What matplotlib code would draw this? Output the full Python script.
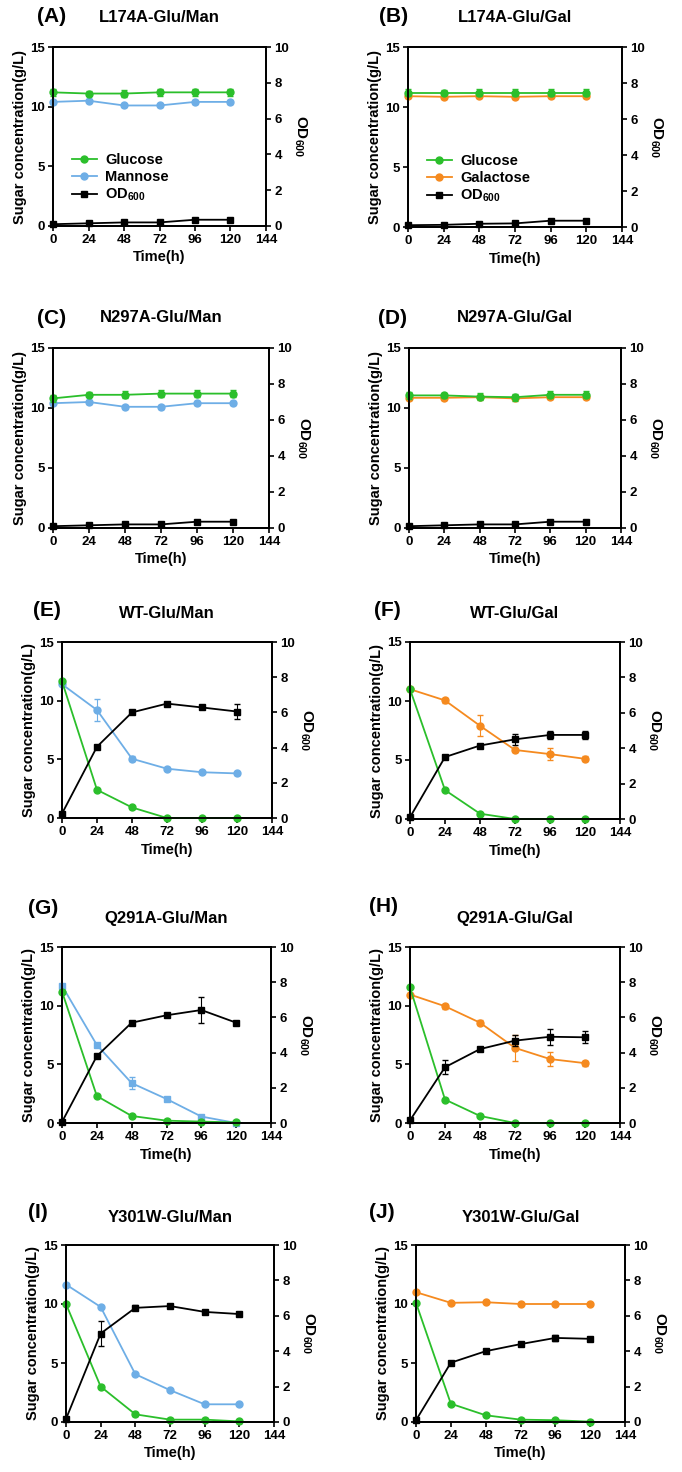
import matplotlib
matplotlib.use("Agg")
import matplotlib.pyplot as plt
import numpy as np

plt.rcParams['font.family'] = ['Liberation Sans', 'DejaVu Sans']
plt.rcParams['font.weight'] = 'bold'
plt.rcParams['mathtext.default'] = 'regular'

time = [0, 24, 48, 72, 96, 120]

# sugar (g/L) and OD600 per panel
glu_A = [11.2, 11.1, 11.1, 11.2, 11.2, 11.2]
man_A = [10.4, 10.5, 10.1, 10.1, 10.4, 10.4]
od_A = [0.1, 0.15, 0.2, 0.2, 0.35, 0.35]

glu_B = [11.2, 11.2, 11.2, 11.2, 11.2, 11.2]
gal_B = [10.9, 10.85, 10.9, 10.85, 10.9, 10.9]
od_B = [0.1, 0.12, 0.18, 0.2, 0.35, 0.35]

glu_C = [10.8, 11.1, 11.1, 11.2, 11.2, 11.2]
man_C = [10.4, 10.5, 10.1, 10.1, 10.4, 10.4]
od_C = [0.1, 0.15, 0.2, 0.2, 0.35, 0.35]

glu_D = [11.05, 11.05, 10.95, 10.9, 11.1, 11.1]
gal_D = [10.85, 10.85, 10.9, 10.8, 10.9, 10.9]
od_D = [0.1, 0.15, 0.2, 0.2, 0.35, 0.35]

glu_E = [11.65, 2.4, 0.9, 0.0, 0.0, 0.0]
man_E = [11.4, 9.2, 5.05, 4.2, 3.9, 3.8]
od_E = [0.25, 4.05, 6.0, 6.5, 6.28, 6.05]

glu_F = [11.0, 2.45, 0.45, 0.0, 0.0, 0.0]
gal_F = [11.0, 10.05, 7.9, 5.85, 5.5, 5.1]
od_F = [0.1, 3.5, 4.15, 4.5, 4.75, 4.75]

glu_G = [11.2, 2.3, 0.6, 0.2, 0.12, 0.05]
man_G = [11.7, 6.65, 3.4, 2.05, 0.55, 0.0]
od_G = [0.06, 3.8, 5.7, 6.12, 6.42, 5.7]

glu_H = [11.55, 2.0, 0.6, 0.0, 0.0, 0.0]
gal_H = [10.95, 9.95, 8.55, 6.4, 5.45, 5.1]
od_H = [0.15, 3.17, 4.2, 4.68, 4.9, 4.87]

glu_I = [10.0, 3.0, 0.65, 0.2, 0.2, 0.05]
man_I = [11.65, 9.75, 4.05, 2.7, 1.5, 1.5]
od_I = [0.17, 5.0, 6.45, 6.55, 6.22, 6.1]

glu_J = [10.1, 1.55, 0.57, 0.2, 0.15, 0.03]
gal_J = [11.0, 10.1, 10.15, 10.0, 10.0, 10.0]
od_J = [0.1, 3.35, 4.0, 4.4, 4.75, 4.7]

# error bars
err_flat_g = [0.3, 0.2, 0.3, 0.3, 0.3, 0.3]
err_flat_s = [0.15, 0.15, 0.15, 0.15, 0.15, 0.15]
err_flat_od = [0.05, 0.05, 0.05, 0.05, 0.05, 0.05]
err_E_s2 = [0.1, 0.9, 0.2, 0.15, 0.1, 0.1]
err_E_od = [0.05, 0.1, 0.1, 0.1, 0.1, 0.4]
err_F_s2 = [0.1, 0.2, 0.9, 0.2, 0.5, 0.2]
err_F_od = [0.05, 0.1, 0.1, 0.3, 0.25, 0.25]
err_G_s2 = [0.1, 0.2, 0.5, 0.2, 0.1, 0.05]
err_G_od = [0.05, 0.1, 0.1, 0.1, 0.75, 0.1]
err_H_s2 = [0.1, 0.2, 0.2, 1.1, 0.6, 0.2]
err_H_od = [0.05, 0.4, 0.1, 0.3, 0.45, 0.35]
err_I_od = [0.05, 0.7, 0.15, 0.1, 0.1, 0.1]
err_J_od = [0.05, 0.1, 0.1, 0.1, 0.15, 0.1]
err_small = [0.1, 0.1, 0.1, 0.1, 0.1, 0.1]

green = '#2bbf2b'
blue = '#6eaee6'
orange = '#f58a1f'

panels = [
    ('(A)', 'L174A-Glu/Man', glu_A, man_A, od_A, 'Mannose', blue, 'o', err_flat_g, err_flat_s, err_flat_od, True),
    ('(B)', 'L174A-Glu/Gal', glu_B, gal_B, od_B, 'Galactose', orange, 'o', err_flat_g, err_flat_s, err_flat_od, True),
    ('(C)', 'N297A-Glu/Man', glu_C, man_C, od_C, 'Mannose', blue, 'o', err_flat_g, err_flat_s, err_flat_od, False),
    ('(D)', 'N297A-Glu/Gal', glu_D, gal_D, od_D, 'Galactose', orange, 'o', err_flat_g, err_flat_s, err_flat_od, False),
    ('(E)', 'WT-Glu/Man', glu_E, man_E, od_E, 'Mannose', blue, 'o', err_small, err_E_s2, err_E_od, False),
    ('(F)', 'WT-Glu/Gal', glu_F, gal_F, od_F, 'Galactose', orange, 'o', err_small, err_F_s2, err_F_od, False),
    ('(G)', 'Q291A-Glu/Man', glu_G, man_G, od_G, 'Mannose', blue, 's', err_small, err_G_s2, err_G_od, False),
    ('(H)', 'Q291A-Glu/Gal', glu_H, gal_H, od_H, 'Galactose', orange, 'o', err_small, err_H_s2, err_H_od, False),
    ('(I)', 'Y301W-Glu/Man', glu_I, man_I, od_I, 'Mannose', blue, 'o', err_small, err_small, err_I_od, False),
    ('(J)', 'Y301W-Glu/Gal', glu_J, gal_J, od_J, 'Galactose', orange, 'o', err_small, err_small, err_J_od, False),
]

# axes boxes in pixels: left, right, top, bottom ; title y ; label x, label y
boxes = [
    (53, 266, 47, 226, 17, 37, 17),
    (408, 622, 47, 227, 17, 379, 17),
    (53, 269, 348, 528, 318, 37, 318),
    (409, 621, 348, 528, 318, 378, 318),
    (62, 272, 642, 818, 613, 33, 610),
    (410, 620, 642, 819, 613, 374, 610),
    (62, 271, 947, 1123, 918, 28, 908),
    (410, 620, 947, 1123, 918, 369, 906),
    (66, 274, 1245, 1422, 1217, 28, 1213),
    (416, 625, 1245, 1422, 1217, 369, 1213),
]

W, H = 682, 1472
fig = plt.figure(figsize=(W / 100, H / 100), dpi=100)

for p, b in zip(panels, boxes):
    lab, title, glu, s2, od, s2name, s2col, s2mk, eg, es, eo, show_leg = p
    l, r, t, bt, ty, lx, ly = b
    ax = fig.add_axes([l / W, 1 - bt / H, (r - l) / W, (bt - t) / H])
    ax2 = ax.twinx()
    h2 = ax.errorbar(time, s2, yerr=es, color=s2col, marker=s2mk, ms=5, lw=1.3,
                     capsize=2, elinewidth=0.8, clip_on=False, zorder=3)
    h1 = ax.errorbar(time, glu, yerr=eg, color=green, marker='o', ms=5, lw=1.3,
                     capsize=2, elinewidth=0.8, clip_on=False, zorder=4)
    h3 = ax2.errorbar(time, od, yerr=eo, color='black', marker='s', ms=5, lw=1.3,
                      capsize=2, elinewidth=0.8, clip_on=False, zorder=5)
    ax.set_xlim(0, 144)
    ax.set_ylim(0, 15)
    ax2.set_ylim(0, 10)
    ax.set_xticks([0, 24, 48, 72, 96, 120, 144])
    ax.set_yticks([0, 5, 10, 15])
    ax2.set_yticks([0, 2, 4, 6, 8, 10])
    for a in (ax, ax2):
        for sp in a.spines.values():
            sp.set_linewidth(1.3)
        a.tick_params(width=1.2, length=3.5, labelsize=9.5, pad=2.5)
        for tl in a.get_xticklabels() + a.get_yticklabels():
            tl.set_fontweight('bold')
    ax.set_xlabel('Time(h)', fontsize=10.5, fontweight='bold', labelpad=3)
    ax.set_ylabel('Sugar concentration(g/L)', fontsize=10.5, fontweight='bold', labelpad=2)
    ax2.set_ylabel('OD$_{600}$', fontsize=11, fontweight='bold', rotation=270, labelpad=14)
    if show_leg:
        ax.legend([h1[0], h2[0], h3[0]], ['Glucose', s2name, 'OD$_{600}$'], loc='lower left',
                  bbox_to_anchor=(0.04, 0.07), frameon=False, fontsize=10.5,
                  handlelength=1.7, handletextpad=0.6, labelspacing=0.2, borderpad=0.2)
    fig.text((l + r) / 2 / W, 1 - ty / H, title, ha='center', va='center',
             fontsize=12, fontweight='bold')
    fig.text(lx / W, 1 - ly / H, lab, ha='left', va='center',
             fontsize=15, fontweight='bold')

fig.savefig('out.png', dpi=100)
